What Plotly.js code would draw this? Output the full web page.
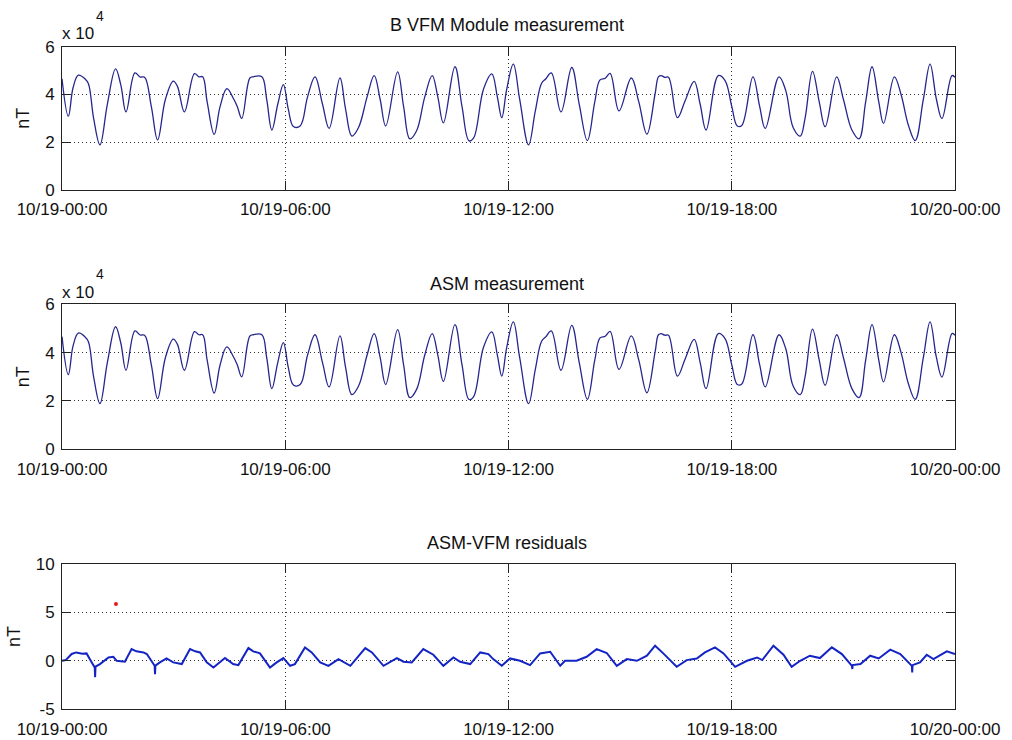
<!DOCTYPE html>
<html>
<head>
<meta charset="utf-8">
<script src="https://cdn.plot.ly/plotly-3.0.1.min.js"></script>
<style>html,body{margin:0;padding:0;background:#fff;}#chart{width:1012px;height:740px;}</style>
</head>
<body>
<div id="chart"></div>
<script>
// Time axis (hours since 10/19-00:00)
const timeTickVals = [0, 6, 12, 18, 24];
const timeTickLabels = ['10/19-00:00', '10/19-06:00', '10/19-12:00', '10/19-18:00', '10/20-00:00'];

// B VFM module measurement (nT)
const vfmHours = [0.00,0.17,0.30,0.44,0.62,0.71,0.85,1.02,1.22,1.44,1.58,1.72,1.96,2.10,2.22,2.40,2.57,2.78,2.99,3.10,3.29,3.56,3.68,3.78,3.90,4.09,4.25,4.43,4.61,4.71,4.83,5.05,5.14,5.37,5.50,5.64,5.80,5.95,6.08,6.22,6.40,6.60,6.80,7.00,7.18,7.47,7.62,7.79,7.97,8.20,8.39,8.55,8.70,9.02,9.18,9.35,9.53,9.75,9.95,10.10,10.25,10.56,10.75,10.94,11.06,11.33,11.55,11.70,11.82,11.95,12.13,12.30,12.54,12.72,12.89,13.00,13.15,13.41,13.70,13.90,14.12,14.32,14.46,14.60,14.73,14.97,15.30,15.50,15.72,15.94,16.03,16.10,16.20,16.30,16.54,16.75,16.99,17.15,17.31,17.64,17.82,18.00,18.15,18.27,18.57,18.75,18.90,19.27,19.45,19.65,19.84,19.97,20.17,20.35,20.51,20.82,21.00,21.23,21.42,21.60,21.77,21.95,22.08,22.37,22.55,22.75,22.93,23.15,23.33,23.50,23.65,23.92,24.00];
const vfmNT = [46600,30900,43000,48100,46500,44500,30000,18900,36000,50700,44000,32700,49000,47300,47200,35000,21000,38000,45600,43500,32700,48700,47400,47400,37000,23300,35000,42400,38200,35000,30000,46900,47400,47400,38000,25100,36000,44100,34000,26600,26800,39000,47400,36000,25800,46900,34000,22600,26200,39000,47900,38000,26800,49500,35000,21400,24800,39000,47900,39000,28100,51600,35000,20600,21700,42300,48600,39000,30300,42000,52700,38000,18900,33000,44700,46500,49000,32700,51300,36000,20700,37000,46100,46800,48800,33100,46900,37000,23400,40300,47400,47900,47200,47200,30300,37500,45500,36000,25100,47900,45800,35000,26800,27000,47400,35000,25800,47400,41700,26200,22600,30000,49700,37000,26500,47400,38000,25100,21400,37000,51600,37000,27900,47400,40000,27000,20700,38000,52700,38000,29900,47900,47200];

// ASM measurement (nT) — reads identical to the VFM module at this scale
const asmHours = vfmHours;
const asmNT = vfmNT;

// ASM-VFM residuals (nT)
const resHours = [0.00,0.10,0.26,0.38,0.55,0.66,0.80,0.88,0.89,0.90,1.02,1.25,1.38,1.47,1.69,1.87,2.00,2.19,2.28,2.49,2.50,2.51,2.63,2.81,2.99,3.22,3.44,3.58,3.71,3.89,4.07,4.38,4.60,4.74,5.01,5.14,5.32,5.59,5.77,5.95,6.13,6.26,6.53,6.71,6.94,7.16,7.43,7.66,7.75,8.15,8.33,8.64,9.00,9.18,9.40,9.71,9.98,10.25,10.52,10.70,10.97,11.24,11.46,11.59,11.82,12.04,12.31,12.58,12.85,13.12,13.39,13.52,13.83,14.10,14.37,14.64,14.91,15.18,15.45,15.72,15.94,16.16,16.52,16.79,17.06,17.28,17.55,17.78,18.09,18.41,18.68,18.82,19.12,19.39,19.61,19.84,20.10,20.37,20.69,20.96,21.23,21.24,21.25,21.46,21.72,21.95,22.26,22.53,22.84,22.85,22.86,23.06,23.24,23.42,23.78,24.00];
const resNT = [0.00,0.07,0.70,0.86,0.72,0.76,-0.17,-0.69,-1.70,-0.60,-0.34,0.34,0.41,0.00,-0.10,1.20,0.97,0.86,0.69,-0.52,-1.38,-0.50,-0.17,0.24,-0.17,-0.34,1.20,0.97,0.86,-0.17,-0.69,0.28,-0.34,-0.45,1.31,0.97,0.76,-0.69,-0.17,0.28,-0.52,-0.34,1.38,0.86,-0.17,-0.52,0.17,-0.34,-0.52,1.31,0.86,-0.52,0.28,-0.10,-0.17,1.20,0.62,-0.52,0.34,-0.10,-0.34,0.86,0.69,0.17,-0.52,0.24,0.00,-0.45,0.76,0.93,-0.52,0.00,0.00,0.41,1.20,0.80,-0.52,0.17,0.00,0.52,1.55,0.76,-0.62,0.07,0.24,0.86,1.38,0.76,-0.62,0.00,0.34,0.07,1.55,0.62,-0.62,0.00,0.52,0.28,1.38,0.69,-0.52,-0.85,-0.45,-0.34,0.52,0.24,1.14,0.69,-0.52,-1.20,-0.45,-0.17,0.62,0.17,0.97,0.69];

// Isolated outlier in the residuals (red)
const outlierHours = [1.45];
const outlierNT = [5.86];

const titles = ['B VFM Module measurement', 'ASM measurement', 'ASM-VFM residuals'];

const font = {family: 'Liberation Sans, Arial, Helvetica, sans-serif', size: 17, color: '#111'};
const titleFont = {family: 'Liberation Sans, Arial, Helvetica, sans-serif', size: 18, color: '#111'};
const navy = '#26268e';

const traces = [
  {x: vfmHours, y: vfmNT, type: 'scatter', mode: 'lines', xaxis: 'x', yaxis: 'y',
   line: {color: navy, width: 1.3, shape: 'spline', smoothing: 1.1}},
  {x: asmHours, y: asmNT, type: 'scatter', mode: 'lines', xaxis: 'x2', yaxis: 'y2',
   line: {color: navy, width: 1.3, shape: 'spline', smoothing: 1.1}},
  {x: resHours, y: resNT, type: 'scatter', mode: 'lines', xaxis: 'x3', yaxis: 'y3',
   line: {color: '#1424c4', width: 2}},
  {x: outlierHours, y: outlierNT, type: 'scatter', mode: 'markers', xaxis: 'x3', yaxis: 'y3',
   marker: {color: '#e8141e', size: 4}}
];

const xDom = [62/1012, 955/1012];
const gridDash = '1px,3px';
function xAx(anchor) {
  return {domain: xDom, anchor: anchor, range: [0, 24], tickmode: 'array',
    tickvals: timeTickVals, ticktext: timeTickLabels, ticks: 'inside', ticklen: 9,
    tickcolor: '#222', showline: true, linecolor: '#222', linewidth: 1, mirror: 'ticks',
    showgrid: true, gridcolor: '#333', griddash: gridDash, gridwidth: 1, zeroline: false,
    ticklabelstandoff: 4, tickfont: font, automargin: false};
}
function yAx(anchor, dom, range, vals, labels) {
  return {domain: dom, anchor: anchor, range: range, tickmode: 'array', tickvals: vals,
    ticktext: labels, ticks: 'inside', ticklen: 9, tickcolor: '#222', showline: true,
    linecolor: '#222', linewidth: 1, mirror: 'ticks', showgrid: true, gridcolor: '#333',
    griddash: gridDash, gridwidth: 1, zeroline: false, tickfont: font, automargin: false,
    ticklabelstandoff: 3, title: {text: 'nT', font: titleFont, standoff: 10}};
}

const layout = {
  width: 1012, height: 740, margin: {l: 0, r: 0, t: 0, b: 0},
  paper_bgcolor: '#fff', plot_bgcolor: '#fff', showlegend: false, font: font,
  xaxis: xAx('y'), xaxis2: xAx('y2'), xaxis3: xAx('y3'),
  yaxis: yAx('x', [1-190/740, 1-46.7/740], [0, 60000], [0, 20000, 40000, 60000], ['0', '2', '4', '6']),
  yaxis2: yAx('x2', [1-449.3/740, 1-304.3/740], [0, 60000], [0, 20000, 40000, 60000], ['0', '2', '4', '6']),
  yaxis3: yAx('x3', [1-709.3/740, 1-563.7/740], [-5, 10], [-5, 0, 5, 10], ['-5', '0', '5', '10']),
  annotations: [
    {text: titles[0], xref: 'paper', yref: 'paper', x: 507/1012, y: 1-25/740, showarrow: false, font: titleFont, xanchor: 'center', yanchor: 'middle'},
    {text: titles[1], xref: 'paper', yref: 'paper', x: 507/1012, y: 1-284/740, showarrow: false, font: titleFont, xanchor: 'center', yanchor: 'middle'},
    {text: titles[2], xref: 'paper', yref: 'paper', x: 507/1012, y: 1-543/740, showarrow: false, font: titleFont, xanchor: 'center', yanchor: 'middle'},
    {text: 'x 10', xref: 'paper', yref: 'paper', x: 60/1012, y: 1-34/740, showarrow: false, font: font, xanchor: 'left', yanchor: 'middle'},
    {text: '4', xref: 'paper', yref: 'paper', x: 94/1012, y: 1-16/740, showarrow: false, font: {family: font.family, size: 14, color: '#111'}, xanchor: 'left', yanchor: 'middle'},
    {text: 'x 10', xref: 'paper', yref: 'paper', x: 60/1012, y: 1-292/740, showarrow: false, font: font, xanchor: 'left', yanchor: 'middle'},
    {text: '4', xref: 'paper', yref: 'paper', x: 94/1012, y: 1-274/740, showarrow: false, font: {family: font.family, size: 14, color: '#111'}, xanchor: 'left', yanchor: 'middle'}
  ]
};

Plotly.newPlot('chart', traces, layout, {displayModeBar: false, staticPlot: true});
</script>
</body>
</html>
